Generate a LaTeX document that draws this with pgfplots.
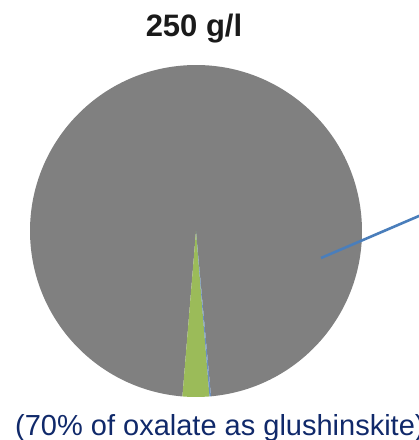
\documentclass[border=0pt]{standalone}
\usepackage{pgfplots}
\pgfplotsset{compat=1.18}
\usepackage{pgfplotstable}
\usepackage{fontspec}
\setmainfont{Liberation Sans}
\definecolor{piegray}{HTML}{808080}
\definecolor{piegreen}{HTML}{9BBB59}
\definecolor{pieblue}{HTML}{6A8FC0}
\definecolor{leaderblue}{HTML}{4A7EBB}
\definecolor{captionblue}{HTML}{10296A}
\definecolor{titlecol}{HTML}{1A1A1A}
\pgfplotstableread{
label value
green 2.6
blue 0.15
gray 97.25
}\piedata
\begin{document}
\begin{tikzpicture}
\pgfplotstablegetelem{0}{value}\of\piedata \let\vA\pgfplotsretval
\pgfplotstablegetelem{1}{value}\of\piedata \let\vB\pgfplotsretval
\pgfplotstablegetelem{2}{value}\of\piedata \let\vC\pgfplotsretval
\pgfmathsetmacro{\aS}{265.3}
\pgfmathsetmacro{\aA}{\aS+3.6*\vA}
\pgfmathsetmacro{\aB}{\aA+3.6*\vB}
\pgfmathsetmacro{\aC}{\aB+3.6*\vC}
\begin{axis}[hide axis, scale only axis, width=419pt, height=440pt,
  xmin=0, xmax=419, ymin=0, ymax=440, clip=false, at={(0,0)}, anchor=south west]
\fill[piegray] (axis cs:196,209) -- ++(\aB:166pt) arc[start angle=\aB, end angle=\aC, radius=166pt] -- cycle;
\fill[piegreen] (axis cs:196,209) -- ++(\aS:166pt) arc[start angle=\aS, end angle=\aA, radius=166pt] -- cycle;
\fill[pieblue] (axis cs:196,209) -- ++(\aA:166pt) arc[start angle=\aA, end angle=\aB, radius=166pt] -- cycle;
\addplot[draw=leaderblue, line width=2.6pt] coordinates {(321,182) (425,226.6)};
\node[anchor=base, inner sep=0pt, text=titlecol, font=\bfseries\fontsize{31}{36}\selectfont] at (axis cs:194,403) {250 g/l};
\node[anchor=base west, inner sep=0pt, text=captionblue, font=\fontsize{29}{34}\selectfont] at (axis cs:15,4.5) {(70\% of oxalate as glushinskite)};
\end{axis}
\pgfresetboundingbox
\path (0,0) rectangle (419pt,440pt);
\end{tikzpicture}
\end{document}
